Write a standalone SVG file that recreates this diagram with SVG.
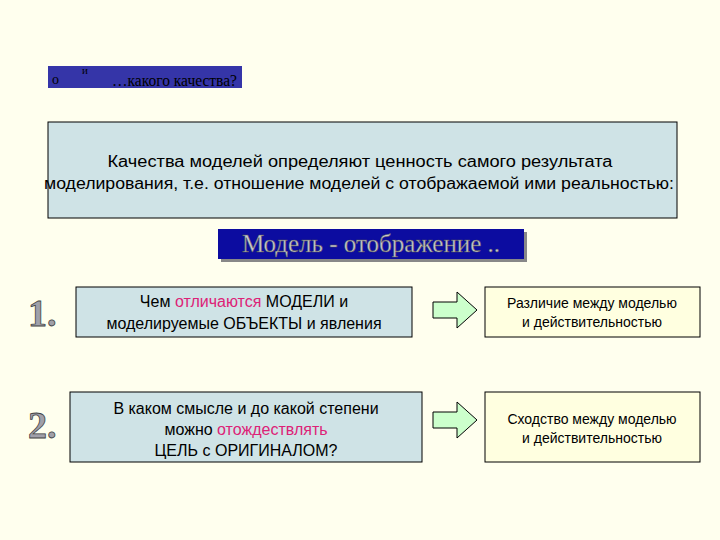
<svg xmlns="http://www.w3.org/2000/svg" width="720" height="540" viewBox="0 0 720 540">
<defs><style>
.t{font-family:"Liberation Sans",Arial,sans-serif;font-size:16px;fill:#000;text-anchor:middle}
.s{font-size:14px}
.b{fill:#cfe3e6;stroke:#000;stroke-width:1}
.y{fill:#ffffe0;stroke:#000;stroke-width:1}
.ar{fill:#ccffcc;stroke:#000;stroke-width:1}
.n{font-family:"Liberation Serif",serif;font-size:38px;font-weight:bold;fill:#a0a0aa;stroke:#444;stroke-width:0.8}
.p{fill:#dd2277}
</style></defs>
<rect width="720" height="540" fill="#ffffee"/>
<g id="title"><rect x="48" y="66" width="194" height="22" fill="#3535a8"/>
<text x="52" y="84" font-family="Liberation Serif,serif" font-size="14" fill="#000">о</text>
<text x="82" y="74" font-family="Liberation Serif,serif" font-size="11" fill="#000">и</text>
<text x="112" y="86" font-family="Liberation Serif,serif" font-size="16" fill="#000" textLength="125" lengthAdjust="spacingAndGlyphs">…какого качества?</text></g>
<g id="intro"><rect class="b" x="48" y="122" width="629" height="96"/>
<text class="t" x="360" y="167" font-size="17" textLength="505" lengthAdjust="spacingAndGlyphs">Качества моделей определяют ценность самого результата</text>
<text class="t" x="359" y="189" font-size="17" textLength="630" lengthAdjust="spacingAndGlyphs">моделирования, т.е. отношение моделей с отображаемой ими реальностью:</text></g>
<g id="heading"><rect x="221" y="232" width="306" height="30" fill="#888"/><rect x="218" y="229" width="306" height="30" fill="#0c0ca0"/>
<text x="371" y="252" font-family="Liberation Serif,serif" font-size="25" text-anchor="middle" fill="#c8c8d0" stroke="#555" stroke-width="0.5">Модель - отображение ..</text></g>
<g id="n1"><text class="n" x="28" y="326">1.</text></g>
<g id="n2"><text class="n" x="28" y="438">2.</text></g>
<g id="q1"><rect class="b" x="76" y="287" width="336" height="50"/>
<text class="t" x="244" y="307">Чем <tspan class="p">отличаются</tspan> МОДЕЛИ и</text>
<text class="t" x="244" y="329">моделируемые ОБЪЕКТЫ и явления</text></g>
<g id="q2"><rect class="b" x="70" y="392" width="352" height="70"/>
<text class="t" x="246" y="414">В каком смысле и до какой степени</text>
<text class="t" x="246" y="435">можно <tspan class="p">отождествлять</tspan></text>
<text class="t" x="246" y="456">ЦЕЛЬ с ОРИГИНАЛОМ?</text></g>
<g id="a1"><rect class="y" x="485" y="287" width="215" height="50"/>
<text class="t s" x="592" y="308">Различие между моделью</text>
<text class="t s" x="592" y="327">и действительностью</text></g>
<g id="a2"><rect class="y" x="485" y="392" width="215" height="70"/>
<text class="t s" x="592" y="424">Сходство между моделью</text>
<text class="t s" x="592" y="443">и действительностью</text></g>
<g id="connectors">
<path class="ar" d="M433,302 H457 V292 L477,310 L457,328 V318 H433 Z"/>
<path class="ar" d="M433,412 H457 V402 L477,420 L457,438 V428 H433 Z"/>
</g>
</svg>
